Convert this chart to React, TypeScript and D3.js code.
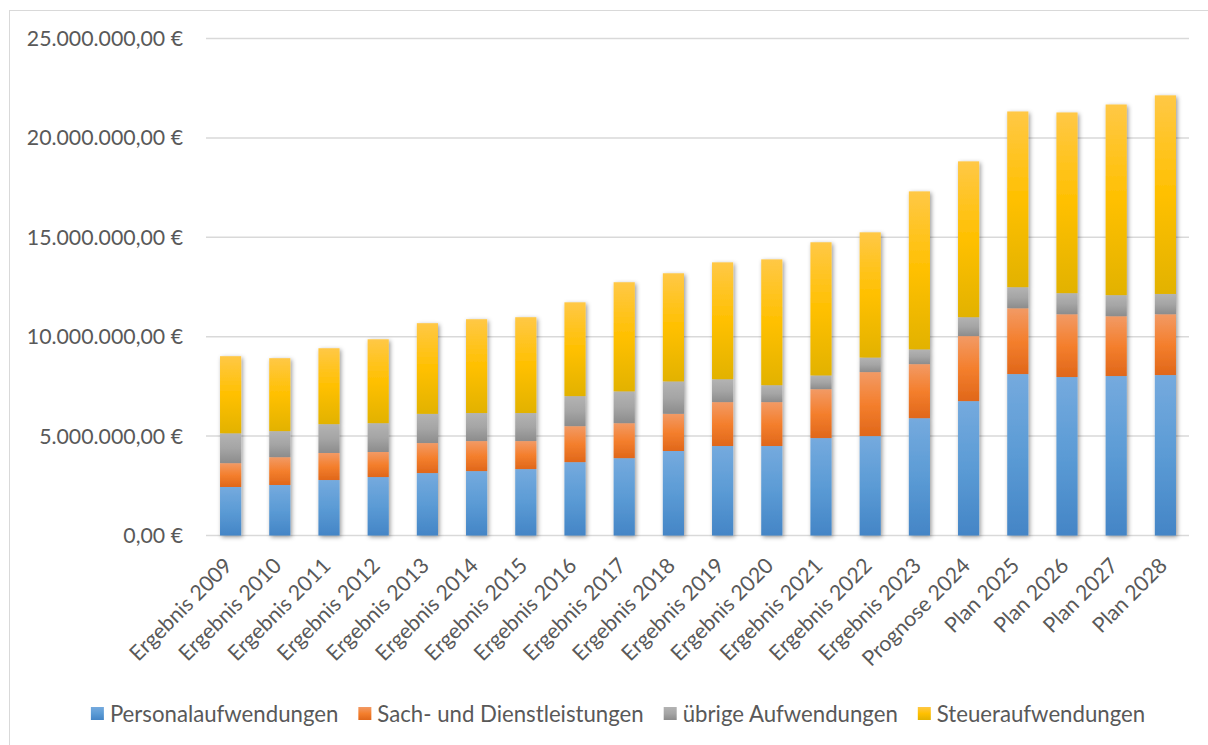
import React, { useEffect, useRef } from "react";
import * as d3 from "d3";

const categories = [
  "Ergebnis 2009", "Ergebnis 2010", "Ergebnis 2011", "Ergebnis 2012", "Ergebnis 2013",
  "Ergebnis 2014", "Ergebnis 2015", "Ergebnis 2016", "Ergebnis 2017", "Ergebnis 2018",
  "Ergebnis 2019", "Ergebnis 2020", "Ergebnis 2021", "Ergebnis 2022", "Ergebnis 2023",
  "Prognose 2024", "Plan 2025", "Plan 2026", "Plan 2027", "Plan 2028",
];

const personal = [2440000, 2540000, 2790000, 2940000, 3140000, 3240000, 3340000, 3690000, 3890000, 4250000, 4500000, 4500000, 4900000, 5000000, 5900000, 6760000, 8120000, 7970000, 8020000, 8070000];
const sach = [1200000, 1400000, 1360000, 1260000, 1510000, 1510000, 1410000, 1810000, 1760000, 1870000, 2210000, 2210000, 2460000, 3220000, 2720000, 3270000, 3310000, 3160000, 3010000, 3060000];
const uebrige = [1500000, 1310000, 1450000, 1450000, 1470000, 1410000, 1410000, 1510000, 1600000, 1630000, 1150000, 850000, 690000, 730000, 740000, 950000, 1060000, 1060000, 1060000, 1020000];
const steuer = [3880000, 3670000, 3820000, 4220000, 4560000, 4720000, 4820000, 4720000, 5490000, 5440000, 5880000, 6330000, 6700000, 6300000, 7950000, 7840000, 8840000, 9090000, 9590000, 9990000];

const seriesNames = ["Personalaufwendungen", "Sach- und Dienstleistungen", "übrige Aufwendungen", "Steueraufwendungen"];
const yTicks = [0, 5000000, 10000000, 15000000, 20000000, 25000000];

const gradStops = [
  ["#75aade", "#5b9bd5", "#4485c6"],
  ["#f29a65", "#f47f2d", "#e0671a"],
  ["#b3b3b3", "#a5a5a5", "#8c8c8c"],
  ["#ffc846", "#ffc000", "#e2b200"],
];

const FONT = "Lato, 'Open Sans', sans-serif";

export default function App() {
  const ref = useRef<SVGSVGElement | null>(null);

  useEffect(() => {
    const svg = d3.select(ref.current);
    svg.selectAll("*").remove();

    const W = 1208, H = 745;
    const x = d3.scaleBand<string>().domain(categories).range([206, 1190]).paddingInner(0.57).paddingOuter(0.285);
    const y = d3.scaleLinear().domain([0, 25000000]).range([535.5, 38.5]);

    const defs = svg.append("defs");
    gradStops.forEach((stops, i) => {
      const g = defs.append("linearGradient").attr("id", `g${i}`).attr("x1", 0).attr("y1", 0).attr("x2", 0).attr("y2", 1);
      g.append("stop").attr("offset", "0%").attr("stop-color", stops[0]);
      g.append("stop").attr("offset", "50%").attr("stop-color", stops[1]);
      g.append("stop").attr("offset", "100%").attr("stop-color", stops[2]);
    });
    const f = defs.append("filter").attr("id", "shadow").attr("x", "-50%").attr("y", "-10%").attr("width", "200%").attr("height", "120%");
    f.append("feDropShadow").attr("dx", 1.5).attr("dy", 1.5).attr("stdDeviation", 2.2).attr("flood-color", "#000").attr("flood-opacity", 0.4);

    svg.append("rect").attr("x", 0).attr("y", 0).attr("width", W).attr("height", H).attr("fill", "#fff");
    svg.append("rect").attr("x", 9.5).attr("y", 10.5).attr("width", 1400).attr("height", 900)
      .attr("fill", "none").attr("stroke", "#d9d9d9").attr("stroke-width", 1);

    // gridlines
    svg.append("g").selectAll("line").data(yTicks).join("line")
      .attr("x1", 206).attr("x2", 1189)
      .attr("y1", (d) => y(d)).attr("y2", (d) => y(d))
      .attr("stroke", "#d9d9d9").attr("stroke-width", 1.5);

    // y labels
    const fmt = (v: number) => {
      const s = d3.format(",.2f")(v);
      return s.replace(/,/g, "#").replace(".", ",").replace(/#/g, ".") + " €";
    };
    svg.append("g").selectAll("text").data(yTicks).join("text")
      .attr("x", 183).attr("y", (d) => y(d)).attr("dy", "0.35em")
      .attr("text-anchor", "end").attr("font-family", FONT).attr("font-size", 21.3)
      .attr("fill", "#595959").text((d) => fmt(d));

    // stack
    const rows = categories.map((c, i) => ({ cat: c, s0: personal[i], s1: sach[i], s2: uebrige[i], s3: steuer[i] }));
    const stack = d3.stack<any>().keys(["s0", "s1", "s2", "s3"])(rows);

    const bars = svg.append("g").attr("filter", "url(#shadow)");
    stack.forEach((layer, li) => {
      bars.append("g").selectAll("rect").data(layer).join("rect")
        .attr("x", (d: any) => x(d.data.cat)!)
        .attr("width", x.bandwidth())
        .attr("y", (d: any) => y(d[1]))
        .attr("height", (d: any) => y(d[0]) - y(d[1]))
        .attr("fill", `url(#g${li})`);
    });

    // x labels
    svg.append("g").selectAll("text").data(categories).join("text")
      .attr("transform", (d) => `translate(${x(d)! + x.bandwidth() / 2 + 3},${567}) rotate(-45)`)
      .attr("text-anchor", "end").attr("font-family", FONT).attr("font-size", 21.3)
      .attr("fill", "#595959").text((d) => d);

    // legend
    const lg = svg.append("g");
    const items = seriesNames.map((name, i) => {
      const g = lg.append("g");
      g.append("rect").attr("x", 0).attr("y", -7).attr("width", 13).attr("height", 13).attr("fill", `url(#g${i})`);
      const t = g.append("text").attr("x", 19).attr("y", 0).attr("dy", "0.35em")
        .attr("font-family", FONT).attr("font-size", 22.2).attr("fill", "#595959").text(name);
      const w = (t.node() as SVGTextElement).getComputedTextLength();
      return { g, w: 19 + w };
    });
    const gap = 20;
    const total = items.reduce((a, b) => a + b.w, 0) + gap * (items.length - 1);
    let cx = 618 - total / 2;
    items.forEach((it) => {
      it.g.attr("transform", `translate(${cx},714)`);
      cx += it.w + gap;
    });
  }, []);

  return (
    <svg ref={ref} width={1208} height={745}
      style={{ position: "absolute", left: 0, top: 0, display: "block" }} />
  );
}
